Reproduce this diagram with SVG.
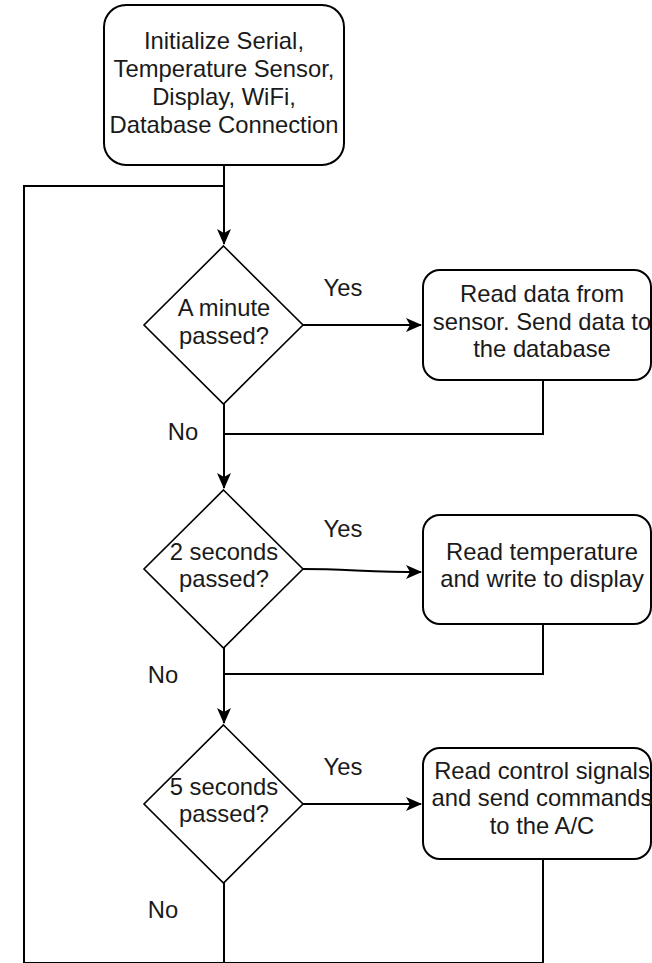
<svg xmlns="http://www.w3.org/2000/svg" width="652" height="963" viewBox="0 0 652 963">
  <defs>
    <style>
      .shape { fill: #ffffff; stroke: #000000; stroke-width: 2; }
      .decision { fill: #ffffff; stroke: #000000; stroke-width: 1.6; }
      .edge { fill: none; stroke: #000000; stroke-width: 2; }
      text { font-family: "Liberation Sans", Arial, Helvetica, sans-serif; font-size: 23.8px; fill: #1a1a1a; text-anchor: middle; }
    </style>
    <marker id="arrow" markerUnits="userSpaceOnUse" markerWidth="16" markerHeight="14" viewBox="0 0 16 14" refX="15" refY="7" orient="auto">
      <path d="M0,0 L16,7 L0,14 L4,7 Z" fill="#000000"/>
    </marker>
  </defs>
  <rect width="652" height="963" fill="#ffffff"/>

  <!-- connectors -->
  <g id="connectors">
    <path class="edge" d="M224,165 L224,244" marker-end="url(#arrow)"/>
    <path class="edge" d="M24,963 L24,186 L224,186"/>
    <path class="edge" d="M303,325 L421,325" marker-end="url(#arrow)"/>
    <path class="edge" d="M543,380 L543,434 L224,434"/>
    <path class="edge" d="M224,404 L224,488" marker-end="url(#arrow)"/>
    <path class="edge" d="M303,569 C345,569 370,572 421,572" marker-end="url(#arrow)"/>
    <path class="edge" d="M543,624 L543,674 L224,674"/>
    <path class="edge" d="M224,648 L224,723" marker-end="url(#arrow)"/>
    <path class="edge" d="M303,804 L421,804" marker-end="url(#arrow)"/>
    <path class="edge" d="M543,859 L543,963"/>
    <path class="edge" d="M224,883 L224,963"/>
    <path class="edge" d="M24,963 L543,963"/>
  </g>

  <!-- edge labels -->
  <g id="labels">
    <text x="343" y="296">Yes</text>
    <text x="183" y="440">No</text>
    <text x="343" y="537">Yes</text>
    <text x="163" y="683">No</text>
    <text x="343" y="775">Yes</text>
    <text x="163" y="918">No</text>
  </g>

  <g id="init">
    <rect class="shape" x="104" y="5" width="240" height="160" rx="22" ry="22"/>
    <text x="224" y="49">Initialize Serial,</text>
    <text x="224" y="77">Temperature Sensor,</text>
    <text x="224" y="105">Display, WiFi,</text>
    <text x="224" y="133">Database Connection</text>
  </g>

  <g id="minute-check">
    <polygon class="decision" points="223.5,246 303,325 223.5,404 144,325"/>
    <text x="224" y="316">A minute</text>
    <text x="224" y="344">passed?</text>
  </g>

  <g id="send-db">
    <rect class="shape" x="423" y="270" width="228" height="110" rx="17" ry="17"/>
    <text x="542" y="302">Read data from</text>
    <text x="542" y="330">sensor. Send data to</text>
    <text x="542" y="357">the database</text>
  </g>

  <g id="two-sec-check">
    <polygon class="decision" points="223.5,490 303,569 223.5,648 144,569"/>
    <text x="224" y="560">2 seconds</text>
    <text x="224" y="587">passed?</text>
  </g>

  <g id="display">
    <rect class="shape" x="423" y="515" width="228" height="109" rx="17" ry="17"/>
    <text x="542" y="560">Read temperature</text>
    <text x="542" y="587">and write to display</text>
  </g>

  <g id="five-sec-check">
    <polygon class="decision" points="223.5,725 303,804 223.5,883 144,804"/>
    <text x="224" y="795">5 seconds</text>
    <text x="224" y="822">passed?</text>
  </g>

  <g id="ac-control">
    <rect class="shape" x="423" y="748" width="228" height="111" rx="17" ry="17"/>
    <text x="542" y="779">Read control signals</text>
    <text x="542" y="806">and send commands</text>
    <text x="542" y="834">to the A/C</text>
  </g>
</svg>
